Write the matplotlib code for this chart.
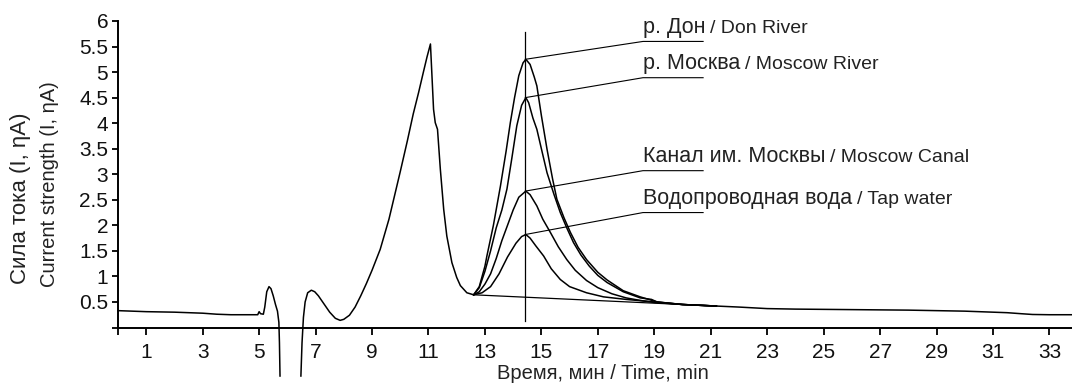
import matplotlib
matplotlib.use('Agg')
import numpy as np
import matplotlib.pyplot as plt

plt.rcParams['font.family'] = ['Liberation Sans', 'DejaVu Sans']

# common part of the chromatogram (time, min / current, nA); None = off-scale gap
base_t = [0.0, 0.5, 1.0, 2.0, 3.0, 3.5, 4.0, 4.5, 4.95, 5.0, 5.05, 5.15, 5.2, 5.27,
          5.35, 5.42, 5.5, 5.58, 5.65, 5.7, 5.72, 5.74, None,
          6.48, 6.52, 6.57, 6.63, 6.72, 6.85, 6.97, 7.1, 7.3, 7.5, 7.7, 7.87, 8.0,
          8.2, 8.4, 8.6, 8.8, 9.0, 9.29, 9.6, 10.0, 10.25, 10.46, 10.65, 10.82,
          10.95, 11.07, 11.18, 11.24, 11.32, 11.42, 11.54, 11.65, 11.83, 12.0, 12.13,
          12.36, 12.6]
base_i = [0.33, 0.32, 0.31, 0.30, 0.28, 0.26, 0.25, 0.25, 0.25, 0.31, 0.27, 0.26, 0.40, 0.70,
          0.80, 0.76, 0.62, 0.45, 0.32, 0.10, -0.30, -0.95, None,
          -0.95, -0.30, 0.20, 0.50, 0.68, 0.73, 0.70, 0.62, 0.46, 0.30, 0.18, 0.14, 0.16,
          0.24, 0.40, 0.62, 0.86, 1.12, 1.53, 2.12, 3.05, 3.65, 4.18, 4.60, 5.00,
          5.30, 5.55, 4.27, 4.01, 3.88, 3.10, 2.31, 1.79, 1.27, 0.98, 0.82,
          0.68, 0.64]

# common tail after the peaks merge
tail_t = [21.2, 22.0, 23.0, 24.0, 25.0, 26.0, 27.0, 28.0, 29.0, 30.0, 31.0, 31.5, 32.0, 32.4, 33.0, 33.8]
tail_i = [0.42, 0.40, 0.37, 0.36, 0.355, 0.35, 0.345, 0.34, 0.33, 0.32, 0.30, 0.29, 0.27, 0.255, 0.25, 0.25]

# baseline drawn under the peaks
bl_t = [12.6, 21.2]
bl_i = [0.64, 0.42]

# sample peaks
don_t = [12.6, 12.8, 13.0, 13.07, 13.3, 13.55, 13.75, 13.9, 14.05, 14.2, 14.35, 14.45, 14.6,
         14.75, 14.84, 15.0, 15.2, 15.4, 15.55, 15.8, 16.03, 16.3, 16.6, 17.0, 17.33, 17.9,
         18.5, 19.1, 20.0, 21.2]
don_i = [0.64, 0.80, 1.20, 1.40, 2.00, 2.77, 3.45, 4.01, 4.50, 4.93, 5.18, 5.25, 5.15,
         4.90, 4.73, 4.15, 3.49, 2.90, 2.51, 2.15, 1.86, 1.57, 1.33, 1.08, 0.93, 0.72,
         0.60, 0.50, 0.45, 0.42]

msk_t = [12.6, 12.8, 13.0, 13.2, 13.4, 13.6, 13.78, 13.95, 14.13, 14.3, 14.45, 14.55, 14.7,
         14.84, 15.0, 15.2, 15.45, 15.67, 15.9, 16.14, 16.4, 16.7, 17.0, 17.33, 17.9, 18.5,
         18.9, 19.1, 20.0, 21.2]
msk_i = [0.64, 0.78, 1.10, 1.50, 1.95, 2.30, 2.71, 3.30, 3.95, 4.35, 4.50, 4.40, 4.10,
         3.88, 3.50, 3.03, 2.60, 2.25, 1.95, 1.66, 1.42, 1.20, 1.02, 0.88, 0.70, 0.58,
         0.55, 0.50, 0.45, 0.42]

canal_t = [12.6, 12.8, 13.0, 13.2, 13.4, 13.6, 13.8, 14.0, 14.2, 14.45, 14.6, 14.84, 15.05,
           15.32, 15.6, 15.9, 16.2, 16.6, 17.0, 17.5, 18.0, 18.5, 19.0, 20.0, 21.2]
canal_i = [0.64, 0.70, 0.85, 1.05, 1.35, 1.70, 2.00, 2.30, 2.55, 2.67, 2.60, 2.38, 2.12,
           1.86, 1.58, 1.33, 1.12, 0.92, 0.78, 0.66, 0.58, 0.53, 0.49, 0.45, 0.42]

tap_t = [12.6, 12.9, 13.2, 13.5, 13.8, 14.1, 14.3, 14.45, 14.6, 14.8, 15.08, 15.35, 15.67,
         16.0, 16.6, 17.2, 18.0, 19.0, 20.0, 21.2]
tap_i = [0.64, 0.68, 0.80, 1.05, 1.38, 1.65, 1.78, 1.82, 1.75, 1.60, 1.40, 1.15, 0.94,
         0.80, 0.68, 0.60, 0.55, 0.50, 0.45, 0.42]

peak_time = 14.43
labels_ru = ['р. Дон', 'р. Москва', 'Канал им. Москвы', 'Водопроводная вода']
labels_en = ['/ Don River', '/ Moscow River', '/ Moscow Canal', '/ Tap water']
peak_tops = [5.25, 4.50, 2.67, 1.82]
label_y = [5.60, 4.89, 3.07, 2.25]

xticks = [0] + list(range(1, 34, 2))
yticks = [0, 0.5, 1, 1.5, 2, 2.5, 3, 3.5, 4, 4.5, 5, 5.5, 6]


def to_arr(v):
    return np.array([np.nan if a is None else a for a in v], dtype=float)


fig = plt.figure(figsize=(10.72, 3.84), dpi=100)
ax = fig.add_axes([118 / 1072, 1 - 327.5 / 384, (1072 - 118) / 1072, 306.5 / 384])

lw = 1.1
ax.plot(to_arr(base_t), to_arr(base_i), color='black', lw=lw, clip_on=False)
ax.plot(tail_t, tail_i, color='black', lw=lw)
ax.plot(bl_t, bl_i, color='black', lw=0.9)
for t, i in [(don_t, don_i), (msk_t, msk_i), (canal_t, canal_i), (tap_t, tap_i)]:
    ax.plot(t, i, color='black', lw=lw)

# vertical marker at the peak maximum
ax.plot([peak_time, peak_time], [0.12, 5.78], color='black', lw=0.9)

ax.set_xlim(0, 33.8)
ax.set_ylim(0, 6)
ax.spines['top'].set_visible(False)
ax.spines['right'].set_visible(False)
for s in ('left', 'bottom'):
    ax.spines[s].set_linewidth(1.4)

ax.set_xticks(xticks)
ax.set_xticklabels([''] + [str(x) for x in xticks[1:]])
ax.set_yticks(yticks)
ax.set_yticklabels([''] + ['%g' % y for y in yticks[1:]])
ax.tick_params(axis='x', direction='out', length=5, width=1.4, pad=6, labelsize=15, colors='#111111')
ax.tick_params(axis='y', direction='out', length=4, width=1.4, pad=3, labelsize=15, colors='#111111')

# leader lines + labels
x_a, x_b = 18.6, 20.73
txts = []
for ru, en, top, ly in zip(labels_ru, labels_en, peak_tops, label_y):
    ax.plot([peak_time, x_a, x_b], [top, ly, ly], color='black', lw=0.8, clip_on=False)
    t1 = ax.text(x_a, ly + 0.165, ru, fontsize=15.5, color='#222222', va='baseline', ha='left')
    txts.append((t1, en, ly + 0.165))

fig.canvas.draw()
r = fig.canvas.get_renderer()
inv = ax.transData.inverted()
for t1, en, yb in txts:
    bb = t1.get_window_extent(r)
    xr = inv.transform((bb.x1 + 5, 0))[0]
    ax.text(xr, yb, en, fontsize=14, color='#222222', va='baseline', ha='left')

fig.text(603 / 1072, 1 - 379 / 384, 'Время, мин / Time, min', fontsize=14.5, color='#222222',
         ha='center', va='baseline')
fig.text(21 / 1072, 1 - 284 / 384, 'Сила тока (I, ηA)', fontsize=16, color='#222222',
         rotation=90, ha='center', va='bottom')
fig.text(50 / 1072, 1 - 287 / 384, 'Current strength (I, ηA)', fontsize=14.5, color='#222222',
         rotation=90, ha='center', va='bottom')

fig.savefig('out.png', dpi=100)
